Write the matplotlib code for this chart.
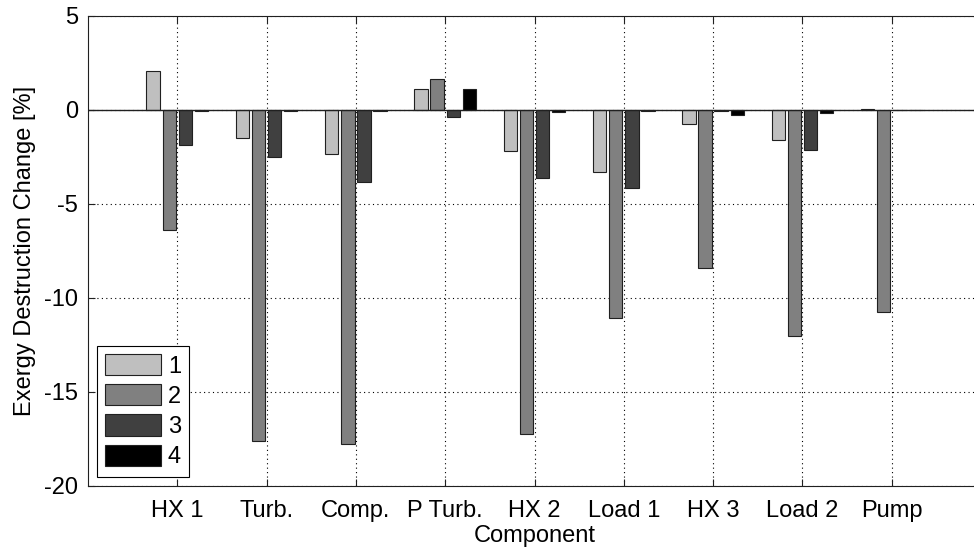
import numpy as np
import matplotlib.pyplot as plt

plt.rcParams['font.family'] = ['Liberation Sans', 'DejaVu Sans']
plt.rcParams['axes.unicode_minus'] = False

# Data
components = ['HX 1', 'Turb.', 'Comp.', 'P Turb.', 'HX 2', 'Load 1', 'HX 3', 'Load 2', 'Pump']
series_names = ['1', '2', '3', '4']
s1 = [2.09, -1.50, -2.32, 1.12, -2.16, -3.28, -0.76, -1.60, 0.03]
s2 = [-6.38, -17.60, -17.75, 1.63, -17.25, -11.07, -8.40, -12.02, -10.75]
s3 = [-1.86, -2.48, -3.85, -0.39, -3.62, -4.17, -0.05, -2.11, 0.0]
s4 = [-0.05, -0.07, -0.07, 1.12, -0.08, -0.05, -0.28, -0.18, 0.02]
series = [s1, s2, s3, s4]
colors = ['#bfbfbf', '#808080', '#404040', '#000000']

fig = plt.figure(figsize=(9.74, 5.52), dpi=100)
ax = fig.add_axes([88 / 974, 1 - 486 / 552, (981 - 88) / 974, 470 / 552])

x = np.arange(1, len(components) + 1)
offsets = [-0.27, -0.09, 0.09, 0.27]
width = 0.15

for vals, off, col, name in zip(series, offsets, colors, series_names):
    ax.bar(x + off, vals, width, color=col, edgecolor='#202020',
           linewidth=0.8, label=name, zorder=3)

ax.axhline(0, color='#202020', linewidth=1.0, zorder=4)

ax.set_xlim(0, 10)
ax.set_ylim(-20, 5)
ax.set_xticks(x)
ax.set_xticklabels(components)
ax.set_yticks([-20, -15, -10, -5, 0, 5])
ax.set_xlabel('Component', fontsize=17, labelpad=2)
ax.set_ylabel('Exergy Destruction Change [%]', fontsize=17, labelpad=6)

ax.grid(True, color='black', linestyle=(0, (1, 3)), linewidth=0.8, zorder=0)
ax.tick_params(direction='in', length=5, top=True, right=True,
               labelsize=17, color='#202020')
ax.tick_params(axis='x', pad=10)
ax.tick_params(axis='y', pad=7)
for sp in ax.spines.values():
    sp.set_color('#202020')

leg = ax.legend(loc='lower left', bbox_to_anchor=(0.01, 0.02), fontsize=17,
                fancybox=False, edgecolor='black', framealpha=1,
                handlelength=2.35, handleheight=1.0, handletextpad=0.3,
                labelspacing=0.28, borderpad=0.35, borderaxespad=0)
leg.get_frame().set_linewidth(0.8)

fig.savefig('out.png', dpi=100)
